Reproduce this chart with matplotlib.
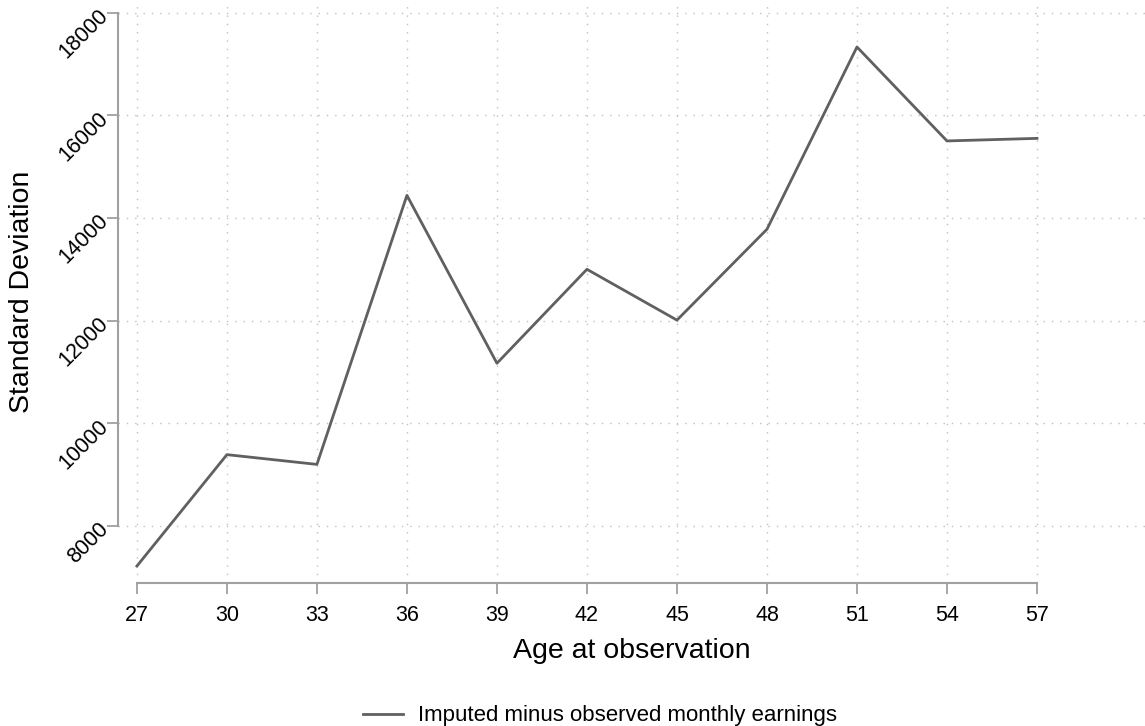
import matplotlib.pyplot as plt

# ages and standard deviation of imputed minus observed earnings
ages = [27, 30, 33, 36, 39, 42, 45, 48, 51, 54, 57]
sd_values = [7220, 9390, 9200, 14440, 11170, 13000, 12010, 13780, 17330, 15500, 15550]
y_ticks = [8000, 10000, 12000, 14000, 16000, 18000]
series_label = "Imputed minus observed monthly earnings"

plt.rcParams['font.family'] = ['Liberation Sans', 'DejaVu Sans']

fig = plt.figure(figsize=(11.45, 7.26), dpi=100)
ax = fig.add_axes([118 / 1145, 1 - 583 / 726, 1 - 118 / 1145, 583 / 726])

ax.plot(ages, sd_values, color='#606060', lw=2, label=series_label)

ax.set_xlim(26.37, 60.6)
ax.set_ylim(6890, 18245)
ax.set_xticks(ages)
ax.set_yticks(y_ticks)
ax.tick_params(axis='both', labelsize=15.5, color='#a0a0a0', length=8, width=1.3)
ax.tick_params(axis='x', pad=8)
ax.tick_params(axis='y', pad=1)
plt.setp(ax.get_yticklabels(), rotation=45, ha='right', va='center', rotation_mode='anchor')

ax.grid(True, ls=(0, (1, 5)), color='#c0c0c0', lw=1)

for side in ['top', 'right']:
    ax.spines[side].set_visible(False)
for side in ['left', 'bottom']:
    ax.spines[side].set_color('#a0a0a0')
    ax.spines[side].set_linewidth(1.5)
ax.spines['left'].set_bounds(8000, 18000)
ax.spines['bottom'].set_bounds(27, 57)

ax.set_xlabel("Age at observation", fontsize=20.5)
ax.set_ylabel("Standard Deviation", fontsize=20.5)
ax.xaxis.set_label_coords(0.5, -0.094)
ax.yaxis.set_label_coords(-0.081, 0.5)

fig.legend(loc='lower center', bbox_to_anchor=(0.524, -0.028), frameon=False,
           fontsize=16, handlelength=1.8, handletextpad=0.7)

fig.savefig("out.png", dpi=100)
